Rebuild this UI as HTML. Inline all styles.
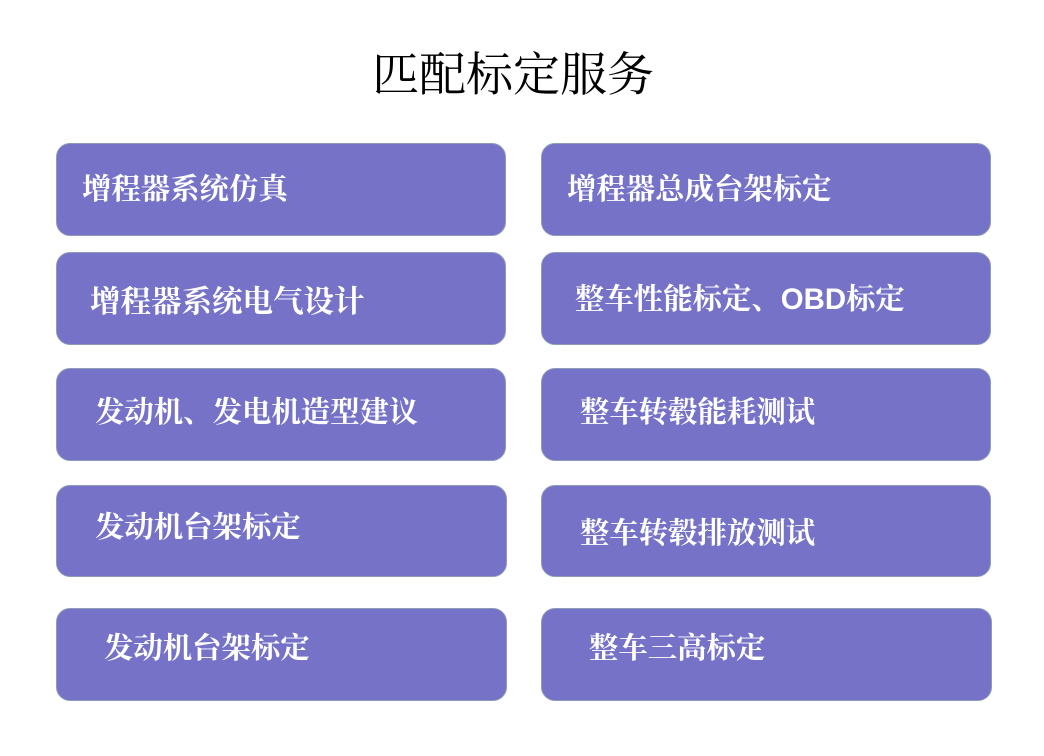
<!DOCTYPE html>
<html><head><meta charset="utf-8"><style>
body{margin:0;width:1044px;height:756px;background:#fff;position:relative;overflow:hidden;font-family:"Liberation Serif","Noto Serif CJK SC",serif;}
.t{position:absolute;left:372px;top:48px;font-size:47px;color:#000;line-height:56px;white-space:nowrap}
.b{position:absolute;width:450px;background:#7572c8;border:1.5px solid #8d9ab8;border-radius:14px;box-sizing:border-box}
.l{position:absolute;color:#fff;font-size:29.4px;font-weight:bold;line-height:32px;white-space:nowrap}
</style></head><body>
<div class="t">匹配标定服务</div>
<div class="b" style="left:56px;top:143px;height:93px"></div>
<div class="b" style="left:541px;top:143px;height:93px"></div>
<div class="b" style="left:56px;top:252px;height:93px"></div>
<div class="b" style="left:541px;top:252px;height:93px"></div>
<div class="b" style="left:56px;top:368px;height:93px"></div>
<div class="b" style="left:541px;top:368px;height:93px"></div>
<div class="b" style="left:56px;top:485px;height:92px;width:451px"></div>
<div class="b" style="left:541px;top:485px;height:92px"></div>
<div class="b" style="left:56px;top:608px;height:93px;width:451px"></div>
<div class="b" style="left:541px;top:608px;height:93px;width:451px"></div>
<div class="l" style="left:82px;top:174px">增程器系统仿真</div>
<div class="l" style="left:90px;top:286px;font-size:30.5px">增程器系统电气设计</div>
<div class="l" style="left:95px;top:397px">发动机、发电机造型建议</div>
<div class="l" style="left:95px;top:512px">发动机台架标定</div>
<div class="l" style="left:104px;top:633px">发动机台架标定</div>
<div class="l" style="left:567px;top:174px">增程器总成台架标定</div>
<div class="l" style="left:575px;top:284px">整车性能标定、<span style="font-family:'Liberation Sans',sans-serif">OBD</span>标定</div>
<div class="l" style="left:580px;top:397px">整车转毂能耗测试</div>
<div class="l" style="left:580px;top:518px">整车转毂排放测试</div>
<div class="l" style="left:589px;top:633px">整车三高标定</div>
</body></html>
